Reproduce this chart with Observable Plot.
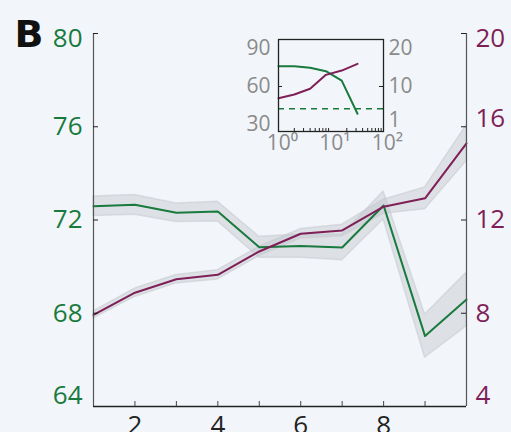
<!DOCTYPE html>
<html>
<head>
<meta charset="utf-8">
<script src="https://cdn.jsdelivr.net/npm/d3@7"></script>
<script src="https://cdn.jsdelivr.net/npm/@observablehq/plot@0.6"></script>
<style>
  html, body { margin: 0; padding: 0; background: #f2f6fa; }
  #wrap { position: relative; width: 511px; height: 432px; overflow: hidden; }
  #wrap svg { position: absolute; left: 0; top: 0; }
</style>
</head>
<body>
<div id="wrap"></div>
<script>
// ---- main panel data ----
const xs = [1, 2, 3, 4, 5, 6, 7, 8, 9, 10];
const greenMean = [72.59, 72.65, 72.31, 72.36, 70.83, 70.88, 70.82, 72.62, 67.02, 68.59];
const greenErr  = [0.42, 0.42, 0.40, 0.42, 0.45, 0.50, 0.55, 0.60, 0.93, 1.15];
const purpleMean = [7.93, 8.88, 9.46, 9.65, 10.65, 11.41, 11.55, 12.57, 12.93, 15.29];
const purpleErr  = [0.15, 0.18, 0.18, 0.20, 0.20, 0.20, 0.25, 0.30, 0.47, 0.77];
const leftTicks = [64, 68, 72, 76, 80];
const rightTicks = [4, 8, 12, 16, 20];
const xTickMarks = [2, 3, 4, 5, 6, 7, 8, 9];
const xTickLabels = [2, 4, 6, 8];

// ---- inset data ----
const insetX = [1, 2, 4, 8, 16, 32];
const insetGreen = [76.0, 76.0, 74.8, 72.1, 64.7, 38.5];
const insetPurple = [6.93, 7.9, 9.4, 13.07, 14.2, 15.97];
const insetChance = [42.4];
const insetLeftTicks = [90, 60, 30];
const insetRightTicks = [20, 10, 1];
const insetXLabels = [1, 10, 100];
const insetXLabelText = ["10⁰", "10¹", "10²"];
const insetMinor = [2, 3, 4, 5, 6, 7, 8, 9, 20, 30, 40, 50, 60, 70, 80, 90];

const GREEN = "#197a3d";
const PURPLE = "#7f1f57";
const BAND = "#c3c8ce";
const BG = "#f2f6fa";
const OFF = 60; // right axis value = left axis value - 60
const FONT = "Open Sans";

const rows = xs.map((x, i) => ({
  x, g: greenMean[i], ge: greenErr[i], p: purpleMean[i] + OFF, pe: purpleErr[i]
}));

const main = Plot.plot({
  width: 511, height: 432,
  marginLeft: 93, marginRight: 45, marginTop: 33, marginBottom: 26,
  style: { background: BG, fontFamily: FONT, overflow: "visible" },
  x: { domain: [1, 10], axis: null },
  y: { domain: [64, 80], axis: null },
  marks: [
    Plot.areaY(rows, { x: "x", y1: d => d.g - d.ge, y2: d => d.g + d.ge, fill: BAND, fillOpacity: 0.45, stroke: BAND, strokeOpacity: 0.5, strokeWidth: 1.5 }),
    Plot.areaY(rows, { x: "x", y1: d => d.p - d.pe, y2: d => d.p + d.pe, fill: BAND, fillOpacity: 0.45, stroke: BAND, strokeOpacity: 0.5, strokeWidth: 1.5 }),
    Plot.lineY(rows, { x: "x", y: "g", stroke: GREEN, strokeWidth: 2 }),
    Plot.lineY(rows, { x: "x", y: "p", stroke: PURPLE, strokeWidth: 2 }),
    Plot.ruleX([1], { y1: 64, y2: 80, stroke: "#555", strokeWidth: 1.2 }),
    Plot.ruleX([10], { y1: 64, y2: 80, stroke: "#555", strokeWidth: 1.2 }),
    Plot.ruleY([64], { x1: 1, x2: 10, stroke: "#222", strokeWidth: 1.5 }),
    Plot.tickY(leftTicks, { y: d => d, insetRight: 368, stroke: "#222" }),
    Plot.tickY(rightTicks.map(d => d + OFF), { y: d => d, insetLeft: 368, stroke: "#222" }),
    Plot.tickX(xTickMarks, { x: d => d, insetTop: 368, stroke: "#444" }),
    // left labels
    Plot.text(leftTicks.filter(d => d > 64 && d < 80), { y: d => d, text: d => String(d), frameAnchor: "left", textAnchor: "end", dx: -11, fill: GREEN, fontSize: 26 }),
    Plot.text([80], { y: d => d, text: d => String(d), frameAnchor: "left", textAnchor: "end", dx: -11, dy: 5, fill: GREEN, fontSize: 26 }),
    Plot.text([64], { y: d => d, text: d => String(d), frameAnchor: "left", textAnchor: "end", dx: -11, dy: -11, fill: GREEN, fontSize: 26 }),
    // right labels
    Plot.text([8, 12], { y: d => d + OFF, text: d => String(d), frameAnchor: "right", textAnchor: "start", dx: 9, fill: PURPLE, fontSize: 26 }),
    Plot.text([16], { y: d => d + OFF, text: d => String(d), frameAnchor: "right", textAnchor: "start", dx: 9, dy: -8, fill: PURPLE, fontSize: 26 }),
    Plot.text([20], { y: d => d + OFF, text: d => String(d), frameAnchor: "right", textAnchor: "start", dx: 9, dy: 5, fill: PURPLE, fontSize: 26 }),
    Plot.text([4], { y: d => d + OFF, text: d => String(d), frameAnchor: "right", textAnchor: "start", dx: 9, dy: -11, fill: PURPLE, fontSize: 26 }),
    // x labels
    Plot.text(xTickLabels, { x: d => d, text: d => String(d), frameAnchor: "bottom", lineAnchor: "top", dy: 9, fill: "#222", fontSize: 26 }),
    // panel letter
    Plot.text(["B"], { frameAnchor: "top-left", textAnchor: "start", lineAnchor: "top", dx: -79, dy: -13, fontSize: 38, fontWeight: "bold", fontFamily: "DejaVu Sans", fill: "#111" })
  ]
});

const insetRowsG = insetX.map((x, i) => ({ x, v: insetGreen[i] }));
const insetRowsP = insetX.map((x, i) => ({ x, v: 3 * insetPurple[i] + 30 }));

const inset = Plot.plot({
  width: 511, height: 432,
  marginLeft: 278, marginRight: 128, marginTop: 39, marginBottom: 301,
  style: { background: "transparent", fontFamily: FONT, overflow: "visible" },
  x: { type: "log", domain: [1, 100], axis: null },
  y: { domain: [24.5, 97.1], axis: null },
  marks: [
    Plot.ruleY(insetChance, { stroke: GREEN, strokeWidth: 1.5, strokeDasharray: "6,5" }),
    Plot.lineY(insetRowsG, { x: "x", y: "v", stroke: GREEN, strokeWidth: 2 }),
    Plot.lineY(insetRowsP, { x: "x", y: "v", stroke: PURPLE, strokeWidth: 2 }),
    Plot.frame({ stroke: "#222", strokeWidth: 1.3 }),
    Plot.tickY([60], { y: d => d, insetRight: 101, stroke: "#222" }),
    Plot.tickY([10], { y: d => 3 * d + 30, insetLeft: 101, stroke: "#222" }),
    Plot.tickX(insetMinor, { x: d => d, insetTop: 89, stroke: "#222" }),
    Plot.text(insetLeftTicks, { y: d => d, text: d => String(d), frameAnchor: "left", textAnchor: "end", dx: -8, fill: "#8a8a8a", fontSize: 21 }),
    Plot.text(insetRightTicks, { y: d => 3 * d + 30, text: d => String(d), frameAnchor: "right", textAnchor: "start", dx: 5, fill: "#8a8a8a", fontSize: 21 }),
    Plot.text(insetXLabels, { x: d => d, text: (d, i) => insetXLabelText[i], frameAnchor: "bottom", lineAnchor: "middle", dy: 12, dx: 4, fill: "#8a8a8a", fontSize: 21 })
  ]
});

const wrap = document.getElementById("wrap");
wrap.appendChild(main);
wrap.appendChild(inset);
</script>
</body>
</html>
